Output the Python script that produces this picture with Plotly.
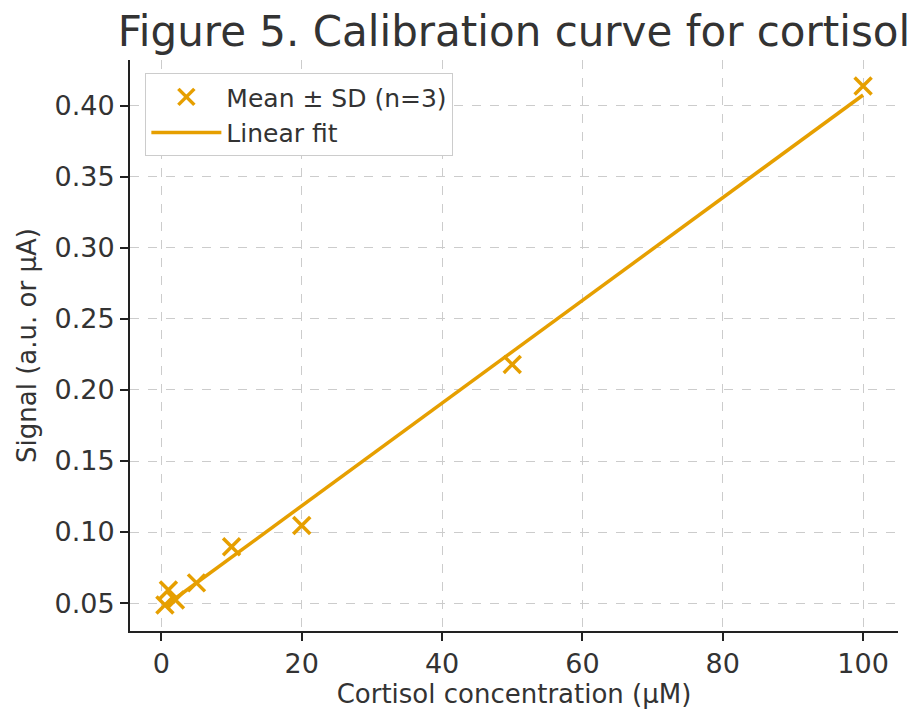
import numpy as np
import plotly.graph_objects as go

# Data
concentration_uM = [0.5, 1, 2, 5, 10, 20, 50, 100]
signal_mean = [0.0486, 0.0592, 0.0521, 0.0642, 0.0897, 0.1046, 0.218, 0.414]
x_ticks = [0, 20, 40, 60, 80, 100]
y_ticks = [0.05, 0.10, 0.15, 0.20, 0.25, 0.30, 0.35, 0.40]

COLOR = "#E69F00"
TEXT = "#333333"
FONT = "DejaVu Sans, Liberation Sans, sans-serif"

slope, intercept = np.polyfit(concentration_uM, signal_mean, 1)
fit_x = [min(concentration_uM), max(concentration_uM)]
fit_y = [slope * v + intercept for v in fit_x]

def padded(vals, frac=0.05):
    lo, hi = min(vals), max(vals)
    d = (hi - lo) * frac
    return [lo - d, hi + d]

fig = go.Figure()
fig.add_trace(go.Scatter(
    x=concentration_uM, y=signal_mean, mode="markers",
    name="Mean ± SD (n=3)",
    marker=dict(symbol="x-thin", size=17, color=COLOR,
                line=dict(color=COLOR, width=3.5)),
))
fig.add_trace(go.Scatter(
    x=fit_x, y=fit_y, mode="lines", name="Linear fit",
    line=dict(color=COLOR, width=3.5),
))

axis_common = dict(
    showline=True, linecolor="#222222", linewidth=2,
    ticks="outside", ticklen=8, tickwidth=2, tickcolor="#222222",
    showgrid=True, gridcolor="#cccccc", griddash="dash", gridwidth=1,
    zeroline=False, mirror=False, automargin=False,
    tickfont=dict(size=27, color=TEXT, family=FONT),
)

fig.update_layout(
    width=912, height=710,
    margin=dict(l=130, r=14, t=60, b=79),
    paper_bgcolor="white", plot_bgcolor="white",
    font=dict(family=FONT, color=TEXT),
    title=dict(text="Figure 5. Calibration curve for cortisol",
               x=(130 + 898) / 2 / 912, xanchor="center",
               y=1 - 31 / 710, yanchor="middle",
               font=dict(size=42, color=TEXT, family=FONT)),
    xaxis=dict(range=padded(concentration_uM), tickvals=x_ticks,
               title=dict(text="Cortisol concentration (µM)",
                          font=dict(size=26, color=TEXT), standoff=5),
               **axis_common),
    yaxis=dict(range=padded(signal_mean), tickvals=y_ticks, tickformat=".2f",
               title=dict(text="Signal (a.u. or µA)",
                          font=dict(size=26, color=TEXT), standoff=10),
               **axis_common),
    legend=dict(x=0.02, y=0.977, xanchor="left", yanchor="top",
                bgcolor="white", bordercolor="#cccccc", borderwidth=1,
                itemwidth=70,
                font=dict(size=25, color=TEXT, family=FONT)),
    showlegend=True,
)

fig.write_html("out.html")
